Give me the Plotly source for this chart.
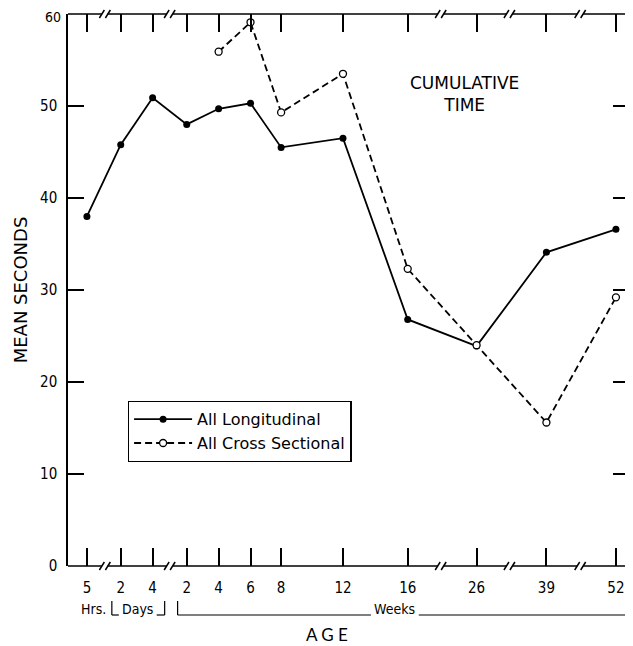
import plotly.graph_objects as go

# ---------------- data ----------------
age_labels = ["5", "2", "4", "2", "4", "6", "8", "12", "16", "26", "39", "52"]
# position of each age on the (broken) horizontal scale
age_pos = [0, 1.06, 2.06, 3.13, 4.13, 5.13, 6.09, 8.03, 10.06, 12.22, 14.41, 16.59]
longitudinal = [38.0, 45.8, 50.9, 48.0, 49.7, 50.3, 45.5, 46.5, 26.8, 23.9, 34.1, 36.6]
cross_sectional = [None, None, None, None, 55.9, 59.1, 49.3, 53.5, 32.3, 24.0, 15.6, 29.2]
y_ticks = [0, 10, 20, 30, 40, 50, 60]

# ---------------- layout helpers (screen pixel -> paper) ----------------
OFF = 8                      # page body margin
W, H = 633 - OFF, 646 - OFF
L, R, T, B = 68, 631, 14, 566   # plot area in screen pixels
def px(x):
    return (x - L) / (R - L)
def py(y):
    return (B - y) / (B - T)

FONT = "Liberation Sans Narrow, DejaVu Sans Condensed, Arial Narrow, sans-serif"
FONT2 = "DejaVu Sans, sans-serif"
FONT3 = "Lato, Noto Sans, sans-serif"

fig = go.Figure()
fig.add_trace(go.Scatter(
    x=age_pos, y=longitudinal, mode="lines+markers", name="All Longitudinal",
    line=dict(color="black", width=1.8),
    marker=dict(symbol="circle", size=7, color="black"),
    cliponaxis=False,
))
fig.add_trace(go.Scatter(
    x=age_pos, y=cross_sectional, mode="lines+markers", name="All Cross Sectional",
    line=dict(color="black", width=1.8, dash="7px,4px"),
    marker=dict(symbol="circle", size=7, color="white", line=dict(color="black", width=1.3)),
    cliponaxis=False, connectgaps=False,
))

shapes = []
lw = 1.5
# top and bottom axis lines with break marks
breaks = [105, 170, 442, 511, 582]
for yline in (B, T):
    edges = [L] + [v for b in breaks for v in (b - 3, b + 3)] + [R]
    for i in range(0, len(edges), 2):
        shapes.append(dict(type="line", xref="paper", yref="paper",
                           x0=px(edges[i]), x1=px(edges[i + 1]), y0=py(yline), y1=py(yline),
                           line=dict(color="black", width=lw)))
    for b in breaks:
        for c in (b - 3, b + 3):
            shapes.append(dict(type="line", xref="paper", yref="paper",
                               x0=px(c - 2.5), x1=px(c + 2.5), y0=py(yline + 4), y1=py(yline - 4),
                               line=dict(color="black", width=lw)))

# brackets under the age labels
base, topb = 615, 601
def bracket(x0, x1, tx0, tx1):
    segs = [((x0, topb), (x0, base)), ((x0, base), (tx0, base)),
            ((tx1, base), (x1, base)), ((x1, base), (x1, topb))]
    for (a, b), (c, d) in segs:
        shapes.append(dict(type="line", xref="paper", yref="paper",
                           x0=px(a), y0=py(b), x1=px(c), y1=py(d),
                           line=dict(color="black", width=1.2)))
bracket(112, 165, 119, 157)
bracket(178, 630, 372, 420)

def note(text, x, y, size, family, **kw):
    return dict(text=text, x=px(x), y=py(y), xref="paper", yref="paper",
                xanchor="center", yanchor="middle", showarrow=False,
                font=dict(size=size, family=family, color="black"), **kw)

annotations = [
    note("Hrs.", 94, 609, 14, FONT),
    note("Days", 138, 609, 14, FONT),
    note("Weeks", 396, 609, 14, FONT),
    note("A G E", 328, 634, 17, FONT3),
    note("CUMULATIVE<br>TIME", 466, 94, 17, FONT2, align="center"),
    # top y label, kept inside the page (plotly drops a tick label at the very edge)
    dict(text=str(y_ticks[-1]), x=0, xref="paper", xanchor="right", xshift=-6,
         y=py(OFF), yref="paper", yanchor="top", showarrow=False, borderpad=0,
         font=dict(size=14, family=FONT, color="black")),
]

fig.update_layout(
    width=W, height=H,
    margin=dict(l=L - OFF, r=W - (R - OFF), t=T - OFF, b=H - (B - OFF)),
    paper_bgcolor="white", plot_bgcolor="white",
    showlegend=True,
    legend=dict(x=px(128), y=py(401), xanchor="left", yanchor="top",
                bordercolor="black", borderwidth=1.3, bgcolor="white",
                font=dict(size=16, family=FONT2, color="black"),
                itemwidth=58, tracegroupgap=0),
    shapes=shapes,
    annotations=annotations,
    xaxis=dict(range=[(L - 87) / 32, (R - 87) / 32], tickmode="array",
               tickvals=age_pos, ticktext=age_labels,
               ticks="inside", ticklen=18, tickwidth=1.5, tickcolor="black",
               mirror="ticks", showline=False, showgrid=False, zeroline=False,
               ticklabelstandoff=11,
               tickfont=dict(size=15, family=FONT, color="black")),
    yaxis=dict(range=[0, 60], tickmode="array", tickvals=y_ticks[:-1],
               ticks="inside", ticklen=16, tickwidth=1.5, tickcolor="black",
               mirror="ticks", showline=True, linecolor="black", linewidth=lw,
               showgrid=False, zeroline=False, ticklabelstandoff=6,
               tickfont=dict(size=15, family=FONT, color="black"),
               title=dict(text="MEAN SECONDS", font=dict(size=18, family=FONT2, color="black"),
                          standoff=8)),
)

fig.write_html("out.html")
